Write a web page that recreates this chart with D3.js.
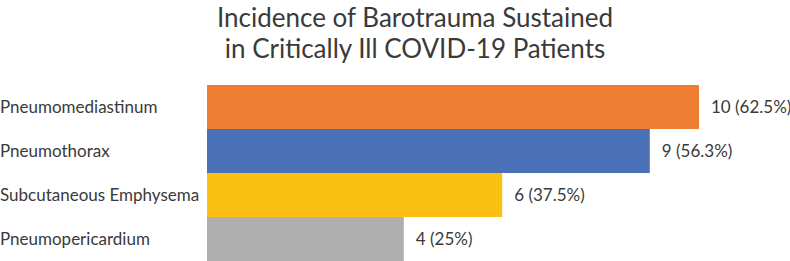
<!DOCTYPE html>
<html lang="en">
<head>
  <meta charset="UTF-8">
  <script src="https://cdn.jsdelivr.net/npm/d3@7"></script>
  <title>Barotrauma</title>
  <style>
    body { margin: 0; background: white; }
    text { font-family: Lato, "Open Sans", sans-serif; fill: #3a3a3a; }
  </style>
</head>
<body>
  <script>
    const categories = ['Pneumomediastinum', 'Pneumothorax', 'Subcutaneous Emphysema', 'Pneumopericardium']
    const counts = [10, 9, 6, 4]
    const percents = ['62.5%', '56.3%', '37.5%', '25%']
    const colors = ['#EE7E31', '#4A71B8', '#FCC012', '#AFAFB0']
    const titleLines = ['Incidence of Barotrauma Sustained', 'in Critically Ill COVID-19 Patients']

    const W = 790, H = 261
    const svg = d3.select('body').append('svg')
      .attr('width', W)
      .attr('height', H)

    const x = d3.scaleLinear().domain([0, 10]).range([207, 699])
    const y = d3.scaleBand().domain(categories).range([85, 261]).padding(0)

    // title
    svg.append('g').selectAll('text')
      .data(titleLines).enter()
      .append('text')
      .attr('x', 415)
      .attr('y', (d, i) => 27 + i * 31)
      .attr('text-anchor', 'middle')
      .style('font-size', '26px')
      .text(d => d)

    // bars
    svg.append('g').selectAll('rect')
      .data(counts).enter()
      .append('rect')
      .attr('x', x(0))
      .attr('y', (d, i) => y(categories[i]))
      .attr('width', d => x(d) - x(0))
      .attr('height', y.bandwidth())
      .attr('fill', (d, i) => colors[i])

    // category labels
    svg.append('g').selectAll('text')
      .data(categories).enter()
      .append('text')
      .attr('x', 0)
      .attr('y', d => y(d) + y.bandwidth() / 2)
      .attr('dy', '0.35em')
      .style('font-size', '17px')
      .text(d => d)

    // value labels
    svg.append('g').selectAll('text')
      .data(counts).enter()
      .append('text')
      .attr('x', d => x(d) + 12)
      .attr('y', (d, i) => y(categories[i]) + y.bandwidth() / 2)
      .attr('dy', '0.35em')
      .style('font-size', '17px')
      .text((d, i) => d + ' (' + percents[i] + ')')
  </script>
</body>
</html>
